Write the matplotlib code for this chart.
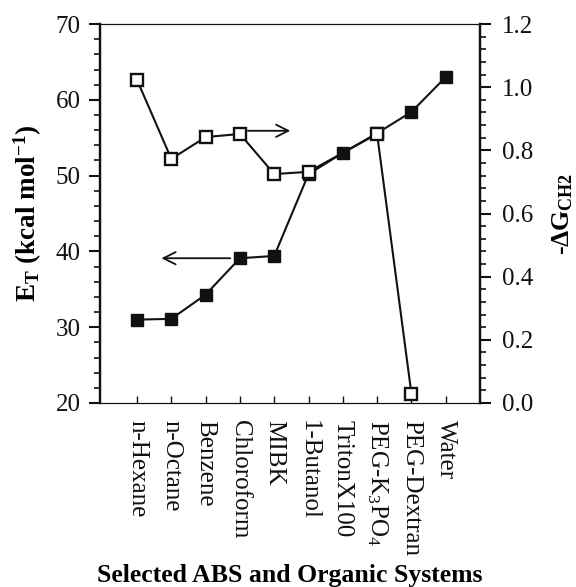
import matplotlib
matplotlib.use("Agg")
import matplotlib.pyplot as plt
import numpy as np

plt.rcParams['font.family'] = ['Liberation Serif', 'DejaVu Serif']
plt.rcParams['mathtext.fontset'] = 'custom'
plt.rcParams['mathtext.rm'] = 'Liberation Serif'
plt.rcParams['mathtext.it'] = 'Liberation Serif:italic'
plt.rcParams['mathtext.bf'] = 'Liberation Serif:bold'

categories = ["n-Hexane", "n-Octane", "Benzene", "Chloroform", "MIBK", "1-Butanol",
              "TritonX100", "PEG-K$_3$PO$_4$", "PEG-Dextran", "Water"]
et_values = [31.0, 31.1, 34.3, 39.1, 39.4, 50.2, 53.0, 55.6, 58.4, 63.0]
dg_values = [1.023, 0.773, 0.842, 0.852, 0.725, 0.732, None, 0.852, 0.03, None]

col = '#111111'
fig = plt.figure(figsize=(5.76, 5.87), dpi=100)
ax = fig.add_axes([0.1736, 0.3135, 0.6597, 0.6455])
ax2 = ax.twinx()

x = np.arange(len(categories))
ax.plot(x, et_values, color=col, lw=1.5, marker='s', ms=9, mfc=col, mec=col, zorder=3)

dx = [xi for xi, v in zip(x, dg_values) if v is not None]
dy = [v for v in dg_values if v is not None]
ax2.plot(dx, dy, color=col, lw=1.5, marker='s', ms=8.5, mfc='white', mec=col, mew=1.7, zorder=3)

ax.set_xlim(-1.08, 10.0)
ax.set_ylim(20, 70)
ax2.set_ylim(0, 1.2)

ax.set_yticks(np.arange(20, 71, 10))
ax.set_yticks(np.arange(20, 71, 2), minor=True)
ax2.set_yticks(np.arange(0, 1.21, 0.2))
ax2.set_yticks(np.arange(0, 1.21, 0.04), minor=True)
ax2.set_yticklabels([f"{v:.1f}" for v in np.arange(0, 1.21, 0.2)])

ax.set_xticks(x)
ax.set_xticklabels(categories, rotation=-90, ha='center', va='top', fontsize=18)
ax.tick_params(axis='x', direction='in', length=5, width=1, pad=12, colors=col)
ax.tick_params(axis='y', which='major', direction='out', length=8, width=1.5, labelsize=18, pad=6, colors=col)
ax.tick_params(axis='y', which='minor', direction='out', length=4, width=1.2, colors=col)
ax2.tick_params(axis='y', which='major', direction='out', length=8, width=1.5, labelsize=18, pad=8, colors=col)
ax2.tick_params(axis='y', which='minor', direction='out', length=4, width=1.2, colors=col)

for a in (ax, ax2):
    a.spines['left'].set_linewidth(1.6)
    a.spines['right'].set_linewidth(1.6)
    a.spines['top'].set_linewidth(0.8)
    a.spines['bottom'].set_linewidth(0.8)
    for s in a.spines.values():
        s.set_color(col)

ax.set_ylabel(r"E$_\mathbf{T}$ (kcal mol$^\mathbf{-1}$)", fontsize=19.5, fontweight='bold', labelpad=8)
ax2.set_ylabel(r"-ΔG$_\mathbf{CH2}$", fontsize=18.5, fontweight='bold', labelpad=12)
ax.set_xlabel("Selected ABS and Organic Systems", fontsize=18.5, fontweight='bold', labelpad=6)

ax2.annotate("", xy=(4.55, 0.862), xytext=(3.15, 0.862),
             arrowprops=dict(arrowstyle='->', lw=1.3, color=col, mutation_scale=22))
ax.annotate("", xy=(0.63, 39.1), xytext=(2.8, 39.1),
            arrowprops=dict(arrowstyle='->', lw=1.3, color=col, mutation_scale=22))

fig.savefig("out.png", dpi=100)
